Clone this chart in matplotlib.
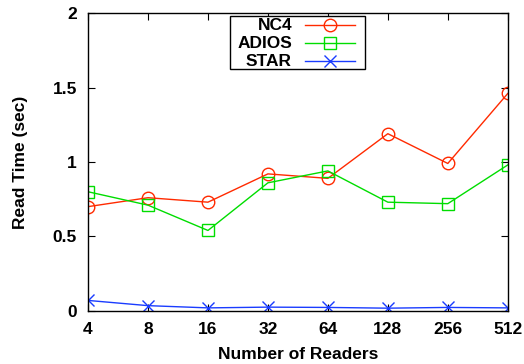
import matplotlib
matplotlib.use("Agg")
import matplotlib.pyplot as plt
from matplotlib.lines import Line2D
from matplotlib.patches import Rectangle

readers = ["4", "8", "16", "32", "64", "128", "256", "512"]
nc4 = [0.70, 0.76, 0.73, 0.92, 0.89, 1.19, 0.99, 1.46]
adios = [0.80, 0.71, 0.54, 0.86, 0.94, 0.73, 0.72, 0.98]
star = [0.07, 0.035, 0.02, 0.025, 0.023, 0.018, 0.023, 0.02]

plt.rcParams['font.family'] = ['Liberation Sans', 'DejaVu Sans']
plt.rcParams['font.weight'] = 'bold'

fig = plt.figure(figsize=(5.24, 3.64), dpi=100)
ax = fig.add_axes([0.168, 0.146, 0.801, 0.818])

series = [
    ('NC4', nc4, '#ff2a00', 'o'),
    ('ADIOS', adios, '#00dd00', 's'),
    ('STAR', star, '#1a3cff', 'x'),
]

x = range(len(readers))
for name, vals, col, mk in series:
    ax.plot(x, vals, color=col, marker=mk, markersize=9, markerfacecolor='none',
            markeredgewidth=1.0, linewidth=1.0, label=name)

ax.set_xlim(0, len(readers) - 1)
ax.set_ylim(0, 2)
ax.set_xticks(list(x))
ax.set_xticklabels(readers)
ax.set_yticks([0, 0.5, 1, 1.5, 2])
ax.set_yticklabels(['0', '0.5', '1', '1.5', '2'])
ax.tick_params(direction='in', top=True, right=True, labelsize=12.5, length=5, pad=8)
for s in ax.spines.values():
    s.set_linewidth(1.0)

ax.set_xlabel('Number of Readers', fontsize=12.5, fontweight='bold', labelpad=7)
ax.set_ylabel('Read Time (sec)', fontsize=12.5, fontweight='bold', labelpad=18)

# gnuplot-style key: labels right-aligned, sample line on the right
ax.add_patch(Rectangle((0.338, 0.812), 0.322, 0.178, transform=ax.transAxes,
                       facecolor='white', edgecolor='black', linewidth=1.0,
                       clip_on=False, zorder=5))
rows = [0.960, 0.899, 0.839]
for (name, vals, col, mk), ry in zip(series, rows):
    ax.text(0.486, ry, name, transform=ax.transAxes, ha='right', va='center',
            fontsize=12.5, fontweight='bold', zorder=6)
    ax.add_line(Line2D([0.517, 0.636], [ry, ry], transform=ax.transAxes,
                       color=col, linewidth=1.0, zorder=6, clip_on=False))
    ax.add_line(Line2D([0.576], [ry], transform=ax.transAxes, color=col,
                       marker=mk, markersize=9, markerfacecolor='none',
                       markeredgewidth=1.0, linestyle='none', zorder=6,
                       clip_on=False))

fig.savefig('out.png', dpi=100)
